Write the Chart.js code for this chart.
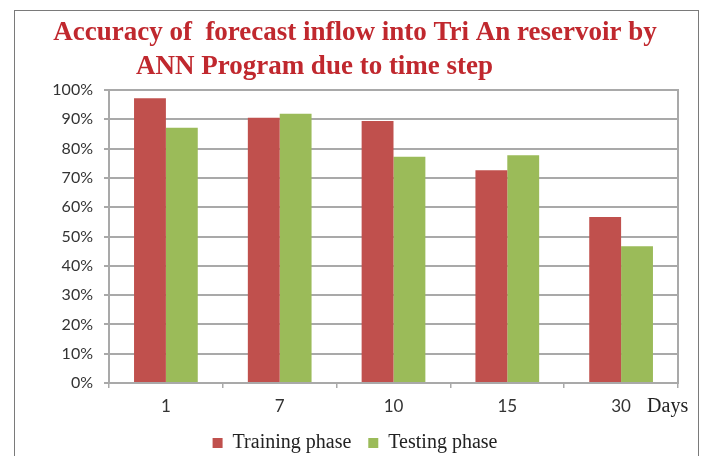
<!DOCTYPE html>
<html>
<head>
<meta charset="utf-8">
<script src="https://cdn.jsdelivr.net/npm/chart.js@4.4.1/dist/chart.umd.min.js"></script>
<style>
  html, body { margin: 0; padding: 0; background: #fff; }
  #wrap { position: relative; width: 702px; height: 456px; overflow: hidden; }
  #frame { position: absolute; left: 14px; top: 10px; width: 685px; height: 470px;
           border: 1px solid #7a7a7a; box-sizing: border-box; }
  #c { position: absolute; left: 0; top: 0; }
</style>
</head>
<body>
<div id="wrap">
  <div id="frame"></div>
  <canvas id="c" width="702" height="463"></canvas>
</div>
<script>
const categories = ['1', '7', '10', '15', '30'];
const trainingPhase = [97.2, 90.5, 89.4, 72.6, 56.7];
const testingPhase = [87.1, 91.9, 77.2, 77.7, 46.7];
const yTicks = [0, 10, 20, 30, 40, 50, 60, 70, 80, 90, 100];
const titleLines = ['Accuracy of  forecast inflow into Tri An reservoir by',
                    'ANN Program due to time step            '];
const axisUnit = 'Days';

const gridColor = '#a9a9a9';
const labelFont = { family: 'Lato, "Open Sans", sans-serif', size: 16 };
const xLabelFont = { family: 'Lato, "Open Sans", sans-serif', size: 17 };

const daysPlugin = {
  id: 'daysLabel',
  afterDraw(chart) {
    const xs = chart.scales.x;
    const ctx = chart.ctx;
    ctx.save();
    ctx.font = '20px "Liberation Serif", "Times New Roman", serif';
    ctx.fillStyle = '#222';
    ctx.textAlign = 'left';
    ctx.textBaseline = 'middle';
    const last = xs.getPixelForValue(categories.length - 1);
    ctx.fillText(axisUnit, last + 26, xs.top + 24);
    ctx.restore();
  }
};

new Chart(document.getElementById('c'), {
  type: 'bar',
  data: {
    labels: categories,
    datasets: [
      { label: 'Training phase', data: trainingPhase, backgroundColor: '#c0504d',
        categoryPercentage: 0.56, barPercentage: 1.0 },
      { label: 'Testing phase', data: testingPhase, backgroundColor: '#9bbb59',
        categoryPercentage: 0.56, barPercentage: 1.0 }
    ]
  },
  options: {
    responsive: false,
    animation: false,
    devicePixelRatio: 1,
    layout: { padding: { left: 14, right: 6, top: 0, bottom: 0 } },
    plugins: {
      tooltip: { enabled: false },
      title: {
        display: true,
        text: titleLines,
        color: '#c0282e',
        font: { family: '"Liberation Serif", "Times New Roman", serif', size: 27, weight: 'bold', lineHeight: 1.26 },
        padding: { top: 16, bottom: 6 }
      },
      legend: {
        position: 'bottom',
        labels: {
          boxWidth: 10, boxHeight: 10,
          color: '#222',
          padding: 17,
          font: { family: '"Liberation Serif", "Times New Roman", serif', size: 20 }
        }
      }
    },
    scales: {
      x: {
        offset: true,
        afterFit(scale) { scale.height = 33; },
        grid: { display: true, drawOnChartArea: false, drawTicks: true, tickLength: 5,
                offset: true, color: gridColor, lineWidth: 1.5 },
        border: { display: true, color: gridColor, width: 2 },
        ticks: { color: '#333', font: xLabelFont, padding: 8, maxRotation: 0 }
      },
      y: {
        min: 0, max: 100,
        afterFit(scale) { scale.width = 95; },
        afterBuildTicks(scale) { scale.ticks = yTicks.map(v => ({ value: v })); },
        grid: { color: gridColor, lineWidth: 2, tickLength: 5 },
        border: { display: true, color: gridColor, width: 2 },
        ticks: { color: '#333', font: labelFont, padding: 11, callback: v => v + '%' }
      },
      y2: {
        position: 'right',
        min: 0, max: 100,
        afterFit(scale) { scale.width = 18; },
        grid: { display: false },
        ticks: { display: false },
        border: { display: true, color: gridColor, width: 2 }
      }
    }
  },
  plugins: [daysPlugin]
});
</script>
</body>
</html>
